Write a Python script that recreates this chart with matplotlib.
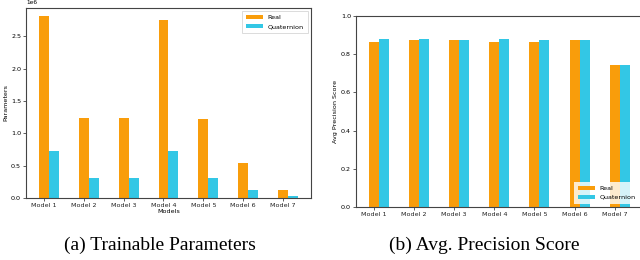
import matplotlib
matplotlib.use("Agg")
import matplotlib.pyplot as plt
import numpy as np

models = ["Model 1", "Model 2", "Model 3", "Model 4", "Model 5", "Model 6", "Model 7"]
params_real = [2.82e6, 1.23e6, 1.23e6, 2.76e6, 1.22e6, 0.54e6, 0.13e6]
params_quat = [0.72e6, 0.31e6, 0.31e6, 0.72e6, 0.31e6, 0.125e6, 0.03e6]
prec_real = [0.866, 0.877, 0.873, 0.866, 0.866, 0.876, 0.741]
prec_quat = [0.879, 0.881, 0.877, 0.879, 0.876, 0.876, 0.746]

c_real = "#f99d0b"
c_quat = "#33c7e5"
spine_c = "#444444"

fig = plt.figure(figsize=(6.4, 2.6), dpi=100)
ax1 = fig.add_axes([0.0406, 0.2385, 0.4453, 0.731])
ax2 = fig.add_axes([0.556, 0.2038, 0.4484, 0.7346])

x = np.arange(len(models))
w = 0.25
fs = 4.6

for ax, r, q in [(ax1, params_real, params_quat), (ax2, prec_real, prec_quat)]:
    ax.bar(x, r, w, color=c_real, label="Real")
    ax.bar(x + w, q, w, color=c_quat, label="Quaternion")
    ax.set_xticks(x)
    ax.set_xticklabels(models, fontsize=fs, color="#222222")
    ax.tick_params(axis="both", labelsize=fs, length=2, width=0.6, color=spine_c, pad=1.5)
    for s in ax.spines.values():
        s.set_color(spine_c)
        s.set_linewidth(0.8)

ax1.set_ylim(0, 2.94e6)
ax1.set_yticks([0, 0.5e6, 1.0e6, 1.5e6, 2.0e6, 2.5e6])
ax1.yaxis.get_offset_text().set_fontsize(4.2)
ax1.set_ylabel("Parameters", fontsize=fs, labelpad=2)
ax1.set_xlabel("Models", fontsize=fs, labelpad=0.5)
leg1 = ax1.legend(loc="upper right", fontsize=fs, frameon=True, handlelength=2.6,
                  borderpad=0.6, fancybox=False, edgecolor="#cccccc")
leg1.get_frame().set_linewidth(0.6)

ax2.set_ylim(0, 1.0)
ax2.set_yticks([0.0, 0.2, 0.4, 0.6, 0.8, 1.0])
ax2.set_ylabel("Avg Precision Score", fontsize=fs, labelpad=2)
leg2 = ax2.legend(loc="lower right", fontsize=fs, frameon=True, handlelength=2.6,
                  borderpad=0.6, fancybox=False, edgecolor="none", framealpha=0.8)

fig.text(0.25, 0.058, "(a) Trainable Parameters", ha="center", va="center",
         fontsize=14, family="Liberation Serif")
fig.text(0.757, 0.058, "(b) Avg. Precision Score", ha="center", va="center",
         fontsize=14, family="Liberation Serif")

fig.savefig("out.png", dpi=100)
